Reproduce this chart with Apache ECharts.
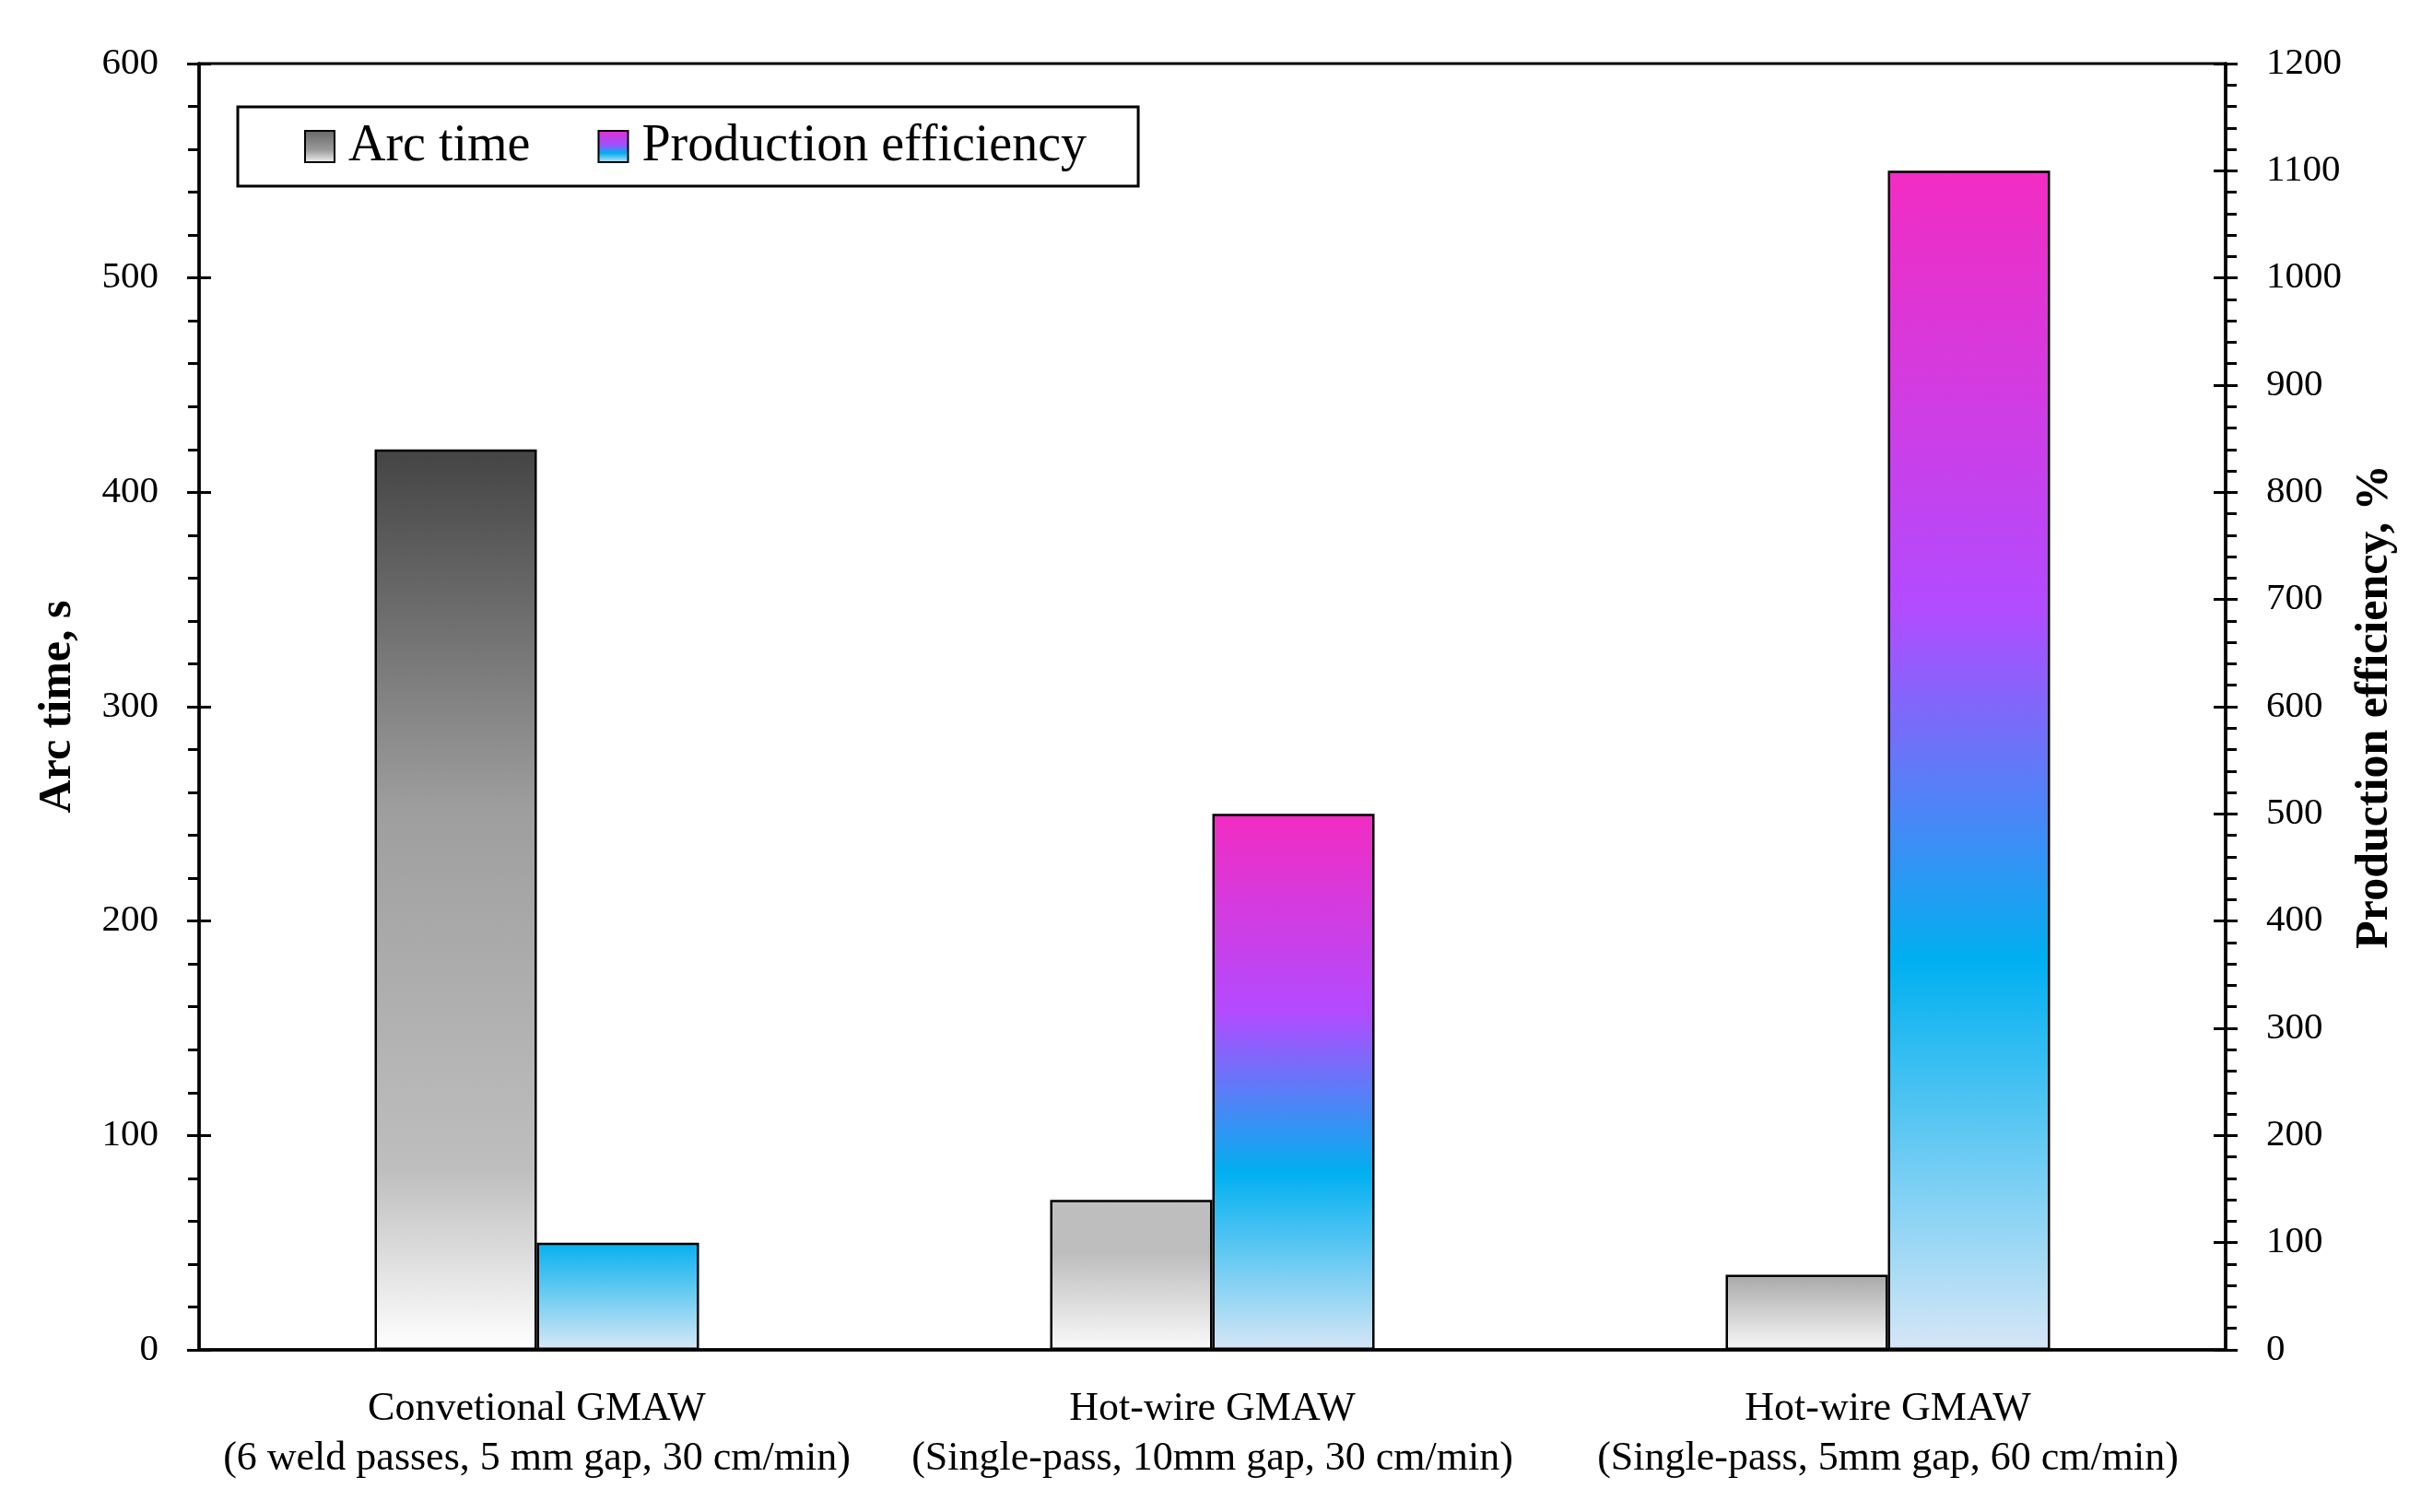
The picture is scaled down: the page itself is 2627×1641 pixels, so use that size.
<!DOCTYPE html>
<html>
<head>
<meta charset="utf-8">
<script src="https://cdn.jsdelivr.net/npm/echarts@6/dist/echarts.min.js"></script>
<style>html,body{margin:0;padding:0;background:#fff;}#c{width:2627px;height:1641px;}</style>
</head>
<body>
<div id="c"></div>
<script>
const categories = [
  'Convetional GMAW\n(6 weld passes, 5 mm gap, 30 cm/min)',
  'Hot-wire GMAW\n(Single-pass, 10mm gap, 30 cm/min)',
  'Hot-wire GMAW\n(Single-pass, 5mm gap, 60 cm/min)'
];
const arcTime = [420, 70, 35];
const prodEff = [100, 500, 1100];
const leftTicks = [0, 600, 100];
const rightTicks = [0, 1200, 100];

const FONT = 'Liberation Serif';
function grad(stops) {
  return new echarts.graphic.LinearGradient(0, 0, 0, 1,
    stops.map(s => ({ offset: s[0], color: s[1] })));
}
const arcStops = [
  [[0, '#444444'], [0.4, '#9e9e9e'], [0.8, '#bebebe'], [1, '#ffffff']],
  [[0, '#bfbfbf'], [0.35, '#bdbdbd'], [1, '#fafafa']],
  [[0, '#a8a8a8'], [1, '#f8f8f8']]
];
const peFull = [[0, '#f22cc2'], [0.37, '#b24bff'], [0.67, '#00b0f0'], [1, '#d6e6f6']];
const peStops = [
  [[0, '#05b0ef'], [0.5, '#6ecdf2'], [1, '#d8e8f6']],
  peFull,
  peFull
];
const legendArc = [[0, '#666666'], [0.6, '#9a9a9a'], [1, '#f4f4f4']];
const legendPe = [[0, '#e030d0'], [0.45, '#a050ff'], [0.7, '#00b0f0'], [1, '#d6e6f6']];

const border = { borderColor: '#000', borderWidth: 2.5 };
const arcData = arcTime.map((v, i) => ({ value: v, itemStyle: { color: grad(arcStops[i]) } }));
const peData = prodEff.map((v, i) => ({ value: v, itemStyle: { color: grad(peStops[i]) } }));

function yAxis(range, pos, name, main, gap) {
  const o = {
    type: 'value', position: pos, min: range[0], max: range[1], interval: range[2],
    splitLine: { show: false },
    axisLine: { show: main, lineStyle: { color: '#000', width: 3.5 } },
    axisTick: { show: true, inside: !main, length: 13, lineStyle: { color: '#000', width: 3 } },
    minorTick: { show: main, splitNumber: 5, length: 12, lineStyle: { color: '#000', width: 3 } },
    axisLabel: { show: main, margin: 44, fontFamily: FONT, fontSize: 41, color: '#000',
      formatter: v => String(v) }
  };
  if (main) {
    o.name = name;
    o.nameLocation = 'middle';
    o.nameRotate = 90;
    o.nameGap = gap;
    o.nameTextStyle = { fontFamily: FONT, fontSize: 50, fontWeight: 'bold', color: '#000' };
  }
  return o;
}

const chart = echarts.init(document.getElementById('c'), null, { renderer: 'canvas' });
chart.setOption({
  animation: false,
  backgroundColor: '#fff',
  grid: { left: 216, right: 212, top: 69, bottom: 176, show: true, borderColor: '#000', borderWidth: 3 },
  legend: {
    left: 258, top: 116,
    data: ['Arc time', 'Production efficiency'],
    icon: 'rect', itemWidth: 32, itemHeight: 34, itemGap: 73,
    padding: [15, 56, 15, 72],
    borderColor: '#000', borderWidth: 3,
    textStyle: { fontFamily: FONT, fontSize: 56, lineHeight: 56, color: '#000', padding: [0, 0, 0, 10] }
  },
  xAxis: {
    type: 'category', data: categories,
    axisLine: { lineStyle: { color: '#000', width: 3.5 } },
    axisTick: { show: false },
    axisLabel: { margin: 37, fontFamily: FONT, fontSize: 44, lineHeight: 54, color: '#000', interval: 0 }
  },
  yAxis: [
    yAxis(leftTicks, 'left', 'Arc time, s', true, 128),
    yAxis(rightTicks, 'right', 'Production efficiency, %', true, 119),
    yAxis(leftTicks, 'left', '', false, 0),
    yAxis(rightTicks, 'right', '', false, 0)
  ],
  series: [
    { name: 'Arc time', type: 'bar', yAxisIndex: 0, barWidth: 176, barGap: '0%',
      itemStyle: Object.assign({ color: grad(legendArc) }, border), data: arcData },
    { name: 'Production efficiency', type: 'bar', yAxisIndex: 1, barWidth: 176, barGap: '0%',
      itemStyle: Object.assign({ color: grad(legendPe) }, border), data: peData }
  ]
});
</script>
</body>
</html>
